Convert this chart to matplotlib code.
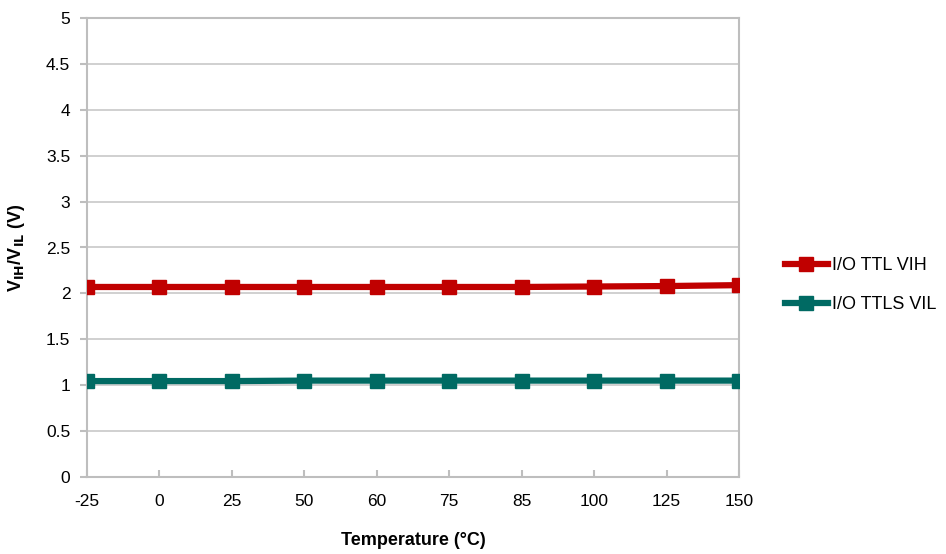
import numpy as np
import matplotlib.pyplot as plt

# Data
temps = ['-25', '0', '25', '50', '60', '75', '85', '100', '125', '150']
vih = [2.07, 2.07, 2.07, 2.07, 2.07, 2.07, 2.07, 2.075, 2.08, 2.09]
vil = [1.045, 1.045, 1.045, 1.05, 1.05, 1.05, 1.05, 1.05, 1.05, 1.05]
yticks = [0, 0.5, 1, 1.5, 2, 2.5, 3, 3.5, 4, 4.5, 5]

plt.rcParams['font.family'] = ['Liberation Sans', 'DejaVu Sans']

fig = plt.figure(figsize=(9.46, 5.54), dpi=100)
ax = fig.add_axes([87 / 946, 77 / 554, 652 / 946, 459 / 554])

x = np.arange(len(temps))
ax.plot(x, vih, color='#C00000', lw=4.5, marker='s', ms=10, label='I/O TTL VIH', zorder=3)
ax.plot(x, vil, color='#006A63', lw=4.5, marker='s', ms=10, label='I/O TTLS VIL', zorder=3)

ax.set_xlim(0, len(temps) - 1)
ax.set_ylim(0, 5)
ax.set_xticks(x)
ax.set_xticklabels(temps)
ax.set_yticks(yticks)
ax.set_yticklabels([f'{v:g}' for v in yticks])
ax.grid(axis='y', color='#C8C8C8', lw=1.2)
for s in ax.spines.values():
    s.set_color('#BEBEBE')
    s.set_linewidth(1.5)
ax.tick_params(axis='x', direction='in', length=5, color='#BEBEBE', width=1.5, pad=12, labelsize=12.5)
ax.tick_params(axis='y', direction='out', length=5, color='#BEBEBE', width=1.5, pad=7, labelsize=12.5)

ax.set_xlabel('Temperature (°C)', fontsize=13, fontweight='bold', labelpad=17)
ax.set_ylabel(r'V$_{\mathbf{IH}}$/V$_{\mathbf{IL}}$ (V)', fontsize=13, fontweight='bold', labelpad=14)

ax.legend(loc='center left', bbox_to_anchor=(1.045, 0.418), frameon=False, fontsize=13,
          handlelength=2.4, labelspacing=1.2, handletextpad=0.2)

plt.savefig('out.png', dpi=100)
